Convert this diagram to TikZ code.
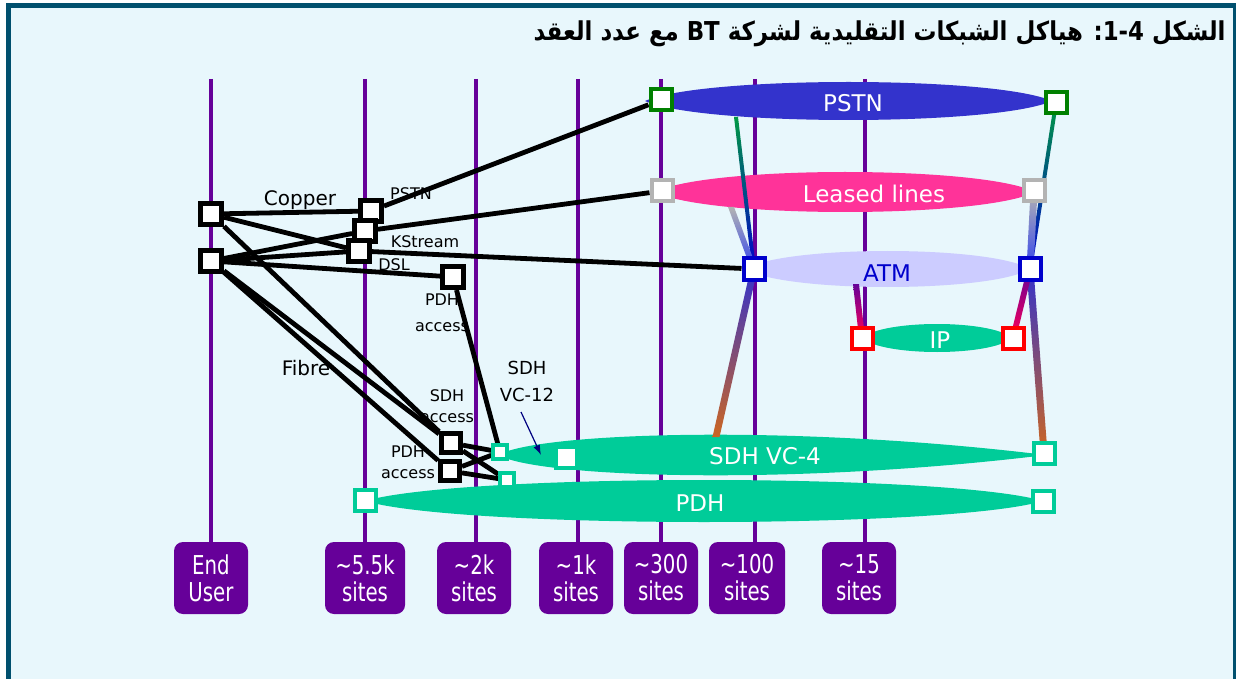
\documentclass[tikz,border=0pt]{standalone}
\usepackage{fontspec}
\setmainfont{DejaVu Sans}
\newfontfamily\arabicfont[Script=Arabic,FakeStretch=0.88]{DejaVu Sans}
\newfontfamily\sitefont[FakeStretch=0.76]{DejaVu Sans}
\TeXXeTstate=1
\usetikzlibrary{arrows.meta,calc,backgrounds}

\definecolor{bgcyan}{HTML}{E8F7FC}
\definecolor{framecol}{HTML}{00506E}
\definecolor{sitepurple}{HTML}{660099}
\definecolor{pstnblue}{HTML}{3333CC}
\definecolor{leasedpink}{HTML}{FF3399}
\definecolor{atmlav}{HTML}{CCCCFF}
\definecolor{atmtext}{HTML}{0000CC}
\definecolor{sdhgreen}{HTML}{00CC99}
\definecolor{nodegreen}{HTML}{008000}
\definecolor{nodegray}{HTML}{B3B3B3}
\definecolor{nodeblue}{HTML}{0000CC}
\definecolor{nodered}{HTML}{FF0000}
\definecolor{navy}{HTML}{000080}
\definecolor{linkgreen}{HTML}{009944}
\definecolor{linkblue}{HTML}{3344EE}
\definecolor{linkmid}{HTML}{8844AA}
\definecolor{linkorange}{HTML}{CC6622}
\definecolor{linkred}{HTML}{FF0055}

\tikzset{
  blk/.style={draw=black, fill=white, line width=2.5pt, minimum size=10.5pt, inner sep=0pt},
  sq/.style={draw=#1, fill=white, line width=2pt, minimum size=10.5pt, inner sep=0pt},
  sitebox/.style={fill=sitepurple, rounded corners=4.5pt, text=white, minimum width=37pt,
    minimum height=36pt, align=center, inner sep=1.5pt,
    font=\sitefont\fontsize{13}{13.5}\selectfont},
  tier/.style={sitepurple, line width=2pt},
  link/.style={black, line width=2.4pt},
  lbl/.style={font=\fontsize{8}{10.5}\selectfont, align=center, inner sep=0pt},
  netlbl/.style={font=\fontsize{11.5}{13}\selectfont, text=white, inner sep=0pt}
}

% lens shaped network band: left x, right x, mid y, half height, colour
\newcommand\lens[5]{%
  \pgfmathsetmacro\lensa{#1+(#2-#1)*0.14}%
  \pgfmathsetmacro\lensb{#2-(#2-#1)*0.14}%
  \pgfmathsetmacro\lenst{#3-#4*4/3}%
  \pgfmathsetmacro\lensu{#3+#4*4/3}%
  \fill[#5] (#1,#3) .. controls (\lensa,\lenst) and (\lensb,\lenst) .. (#2,#3)
    .. controls (\lensb,\lensu) and (\lensa,\lensu) .. (#1,#3) -- cycle;}

% shaded link between two points: from, to, half width, shading
\newcommand\gradlink[4]{%
  \shade[#4] ($(#1)+(-#3,0)$) -- ($(#1)+(#3,0)$) -- ($(#2)+(#3,0)$) -- ($(#2)+(-#3,0)$) -- cycle;}

\begin{document}
\begin{tikzpicture}[x=0.5pt,y=-0.5pt,>={Latex}]
  \useasboundingbox (0,0) rectangle (1236,679);

  % title
  \node[anchor=east, inner sep=0pt, font=\arabicfont\bfseries\fontsize{13}{15}\selectfont] (title) at (1226,34)
    {\beginR الشكل \beginL 1-4\endL{}: هياكل الشبكات التقليدية لشركة \beginL BT\endL{} مع عدد العقد\endR};

  % site counts
  \node[sitebox] (siteEU) at (211,578) {End\\User};
  \node[sitebox, minimum width=40pt] (site55k) at (365,578) {\textasciitilde5.5k\\sites};
  \node[sitebox] (site2k) at (474,578) {\textasciitilde2k\\sites};
  \node[sitebox] (site1k) at (576,578) {\textasciitilde1k\\sites};
  \node[sitebox] (site300) at (661,578) {\textasciitilde300\\sites};
  \node[sitebox, minimum width=38pt] (site100) at (747,578) {\textasciitilde100\\sites};
  \node[sitebox] (site15) at (859,578) {\textasciitilde15\\sites};

  % end user and access boxes
  \node[blk] (eua) at (211,214) {};
  \node[blk] (eub) at (211,261) {};
  \node[blk] (pstnAcc) at (371,211) {};
  \node[blk] (ksAcc) at (365,231) {};
  \node[blk] (dslAcc) at (359,251) {};
  \node[blk] (pdhAccA) at (453,277) {};
  \node[blk, minimum size=9.5pt] (sdhAcc) at (451,443) {};
  \node[blk, minimum size=9.5pt] (pdhAccB) at (450,471) {};

  % network nodes
  \node[sq=nodegreen] (pstnL) at (661,100) {};
  \node[sq=nodegreen] (pstnR) at (1056,103) {};
  \node[sq=nodegray] (llL) at (662,191) {};
  \node[sq=nodegray] (llR) at (1034,191) {};
  \node[sq=nodeblue] (atmL) at (754,269) {};
  \node[sq=nodeblue] (atmR) at (1030,269) {};
  \node[sq=nodered] (ipL) at (862,338) {};
  \node[sq=nodered] (ipR) at (1013,338) {};
  \node[sq=sdhgreen, minimum size=7pt, line width=1.6pt] (vc12) at (500,452) {};
  \node[sq=sdhgreen, minimum size=7pt, line width=1.6pt] (pdhS) at (507,480) {};
  \node[sq=sdhgreen] (vc4L) at (566,457) {};
  \node[sq=sdhgreen] (vc4R) at (1044,453) {};
  \node[sq=sdhgreen] (pdhL) at (365,500) {};
  \node[sq=sdhgreen] (pdhR) at (1043,501) {};

  % band labels
  \node[netlbl] (pstnTxt) at (853,103) {PSTN};
  \node[netlbl] (llTxt) at (874,194) {Leased lines};
  \node[netlbl, text=atmtext] (atmTxt) at (887,273) {ATM};
  \node[netlbl] (ipTxt) at (940,340) {IP};
  \node[netlbl] (vc4Txt) at (765,456) {SDH VC-4};
  \node[netlbl] (pdhTxt) at (700,503) {PDH};

  % access labels
  \node[lbl, font=\fontsize{10}{12}\selectfont] (copperTxt) at (300,200) {Copper};
  \node[lbl, font=\fontsize{10}{12}\selectfont] (fibreTxt) at (306,368) {Fibre};
  \node[lbl] (pstnAccTxt) at (411,194) {PSTN};
  \node[lbl] (ksTxt) at (425,242) {KStream};
  \node[lbl] (dslTxt) at (394,265) {DSL};
  \node[lbl, font=\fontsize{8}{13}\selectfont] (pdhAccATxt) at (442,313) {PDH\\access};
  \node[lbl] (sdhAccTxt) at (447,406) {SDH\\access};
  \node[lbl] (pdhAccBTxt) at (408,462) {PDH\\access};
  \node[lbl, font=\fontsize{9}{13.5}\selectfont] (vc12Txt) at (527,381) {SDH\\VC-12};

  \coordinate (pstnFoot) at (736,117);
  \coordinate (llFoot) at (731,207);
  \coordinate (atmFoot) at (856,284);
  \coordinate (vc4Top) at (716,437);
  \coordinate (vc12Tail) at (521,412);
  \coordinate (vc12Tip) at (541,455);

  \begin{scope}[on background layer]
    \fill[bgcyan] (8.5,5.5) rectangle (1236,679);
    \draw[framecol, line width=2.5pt] (8.5,700) -- (8.5,5.5) -- (1235.5,5.5) -- (1235.5,700);
    % site columns
    \foreach \x/\s in {211/siteEU,365/site55k,476/site2k,578/site1k,661/site300,755/site100,865/site15}
      \draw[tier] (\x,79) -- (\x,0 |- \s.north);
    % bands
    \lens{645}{1052}{101}{19}{pstnblue}
    \lens{655}{1035}{192}{20}{leasedpink}
    \lens{745}{1030}{269}{18}{atmlav}
    \lens{862}{1012}{338}{14}{sdhgreen}
    \fill[sdhgreen] (505,452) .. controls (560,432) and (800,425) .. (1046,455)
      .. controls (800,485) and (560,478) .. (505,458) -- cycle;
    \lens{365}{1043}{501}{21}{sdhgreen}
    % links between bands
    \gradlink{pstnFoot}{atmL}{2}{top color=linkgreen, bottom color=nodeblue}
    \gradlink{pstnR}{atmR}{2}{top color=linkgreen, bottom color=nodeblue}
    \gradlink{llFoot}{atmL}{3}{top color=nodegray, bottom color=linkblue}
    \gradlink{llR}{atmR}{3.5}{top color=nodegray, bottom color=linkblue}
    \gradlink{atmL}{vc4Top}{3.5}{top color=pstnblue, middle color=linkmid, bottom color=linkorange}
    \gradlink{atmR}{vc4R}{3.5}{top color=pstnblue, middle color=linkmid, bottom color=linkorange}
    \gradlink{atmFoot}{ipL}{3}{top color=sitepurple, bottom color=linkred}
    \gradlink{atmR}{ipR}{3}{top color=sitepurple, bottom color=linkred}
    % copper and fibre
    \draw[link] (eua) -- (pstnAcc);
    \draw[link] (eua) -- (dslAcc);
    \draw[link] (eua) -- (sdhAcc);
    \draw[link] (eub) -- (ksAcc);
    \draw[link] (eub) -- (dslAcc);
    \draw[link] (eub) -- (pdhAccA);
    \draw[link] (eub) -- (sdhAcc);
    \draw[link] (eub) -- (pdhAccB);
    \draw[link] (pstnAcc) -- (pstnL);
    \draw[link] (ksAcc) -- (llL);
    \draw[link] (dslAcc) -- (atmL);
    \draw[link] (pdhAccA) -- (vc12);
    \draw[link] (sdhAcc) -- (vc12);
    \draw[link] (sdhAcc) -- (pdhS);
    \draw[link] (pdhAccB) -- (vc12);
    \draw[link] (pdhAccB) -- (pdhS);
    \draw[navy, line width=0.6pt, -{Latex[length=5pt,width=3.5pt]}] (vc12Tail) -- (vc12Tip);
  \end{scope}
\end{tikzpicture}
\end{document}
